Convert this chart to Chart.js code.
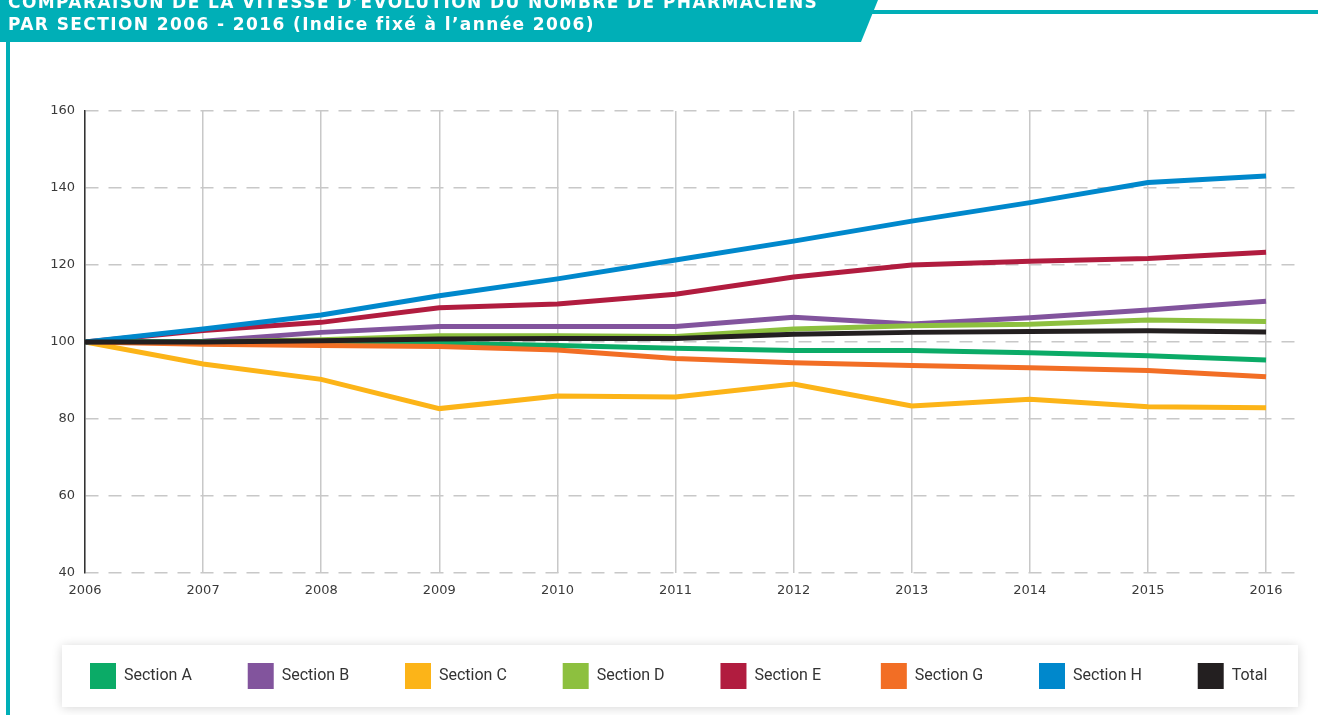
<!DOCTYPE html>
<html>
<head>
<meta charset="utf-8">
<script src="https://cdn.jsdelivr.net/npm/chart.js@4"></script>
<style>
  html, body { margin: 0; padding: 0; background: #fff; }
  body { width: 1318px; height: 715px; position: relative; overflow: hidden; }
  #banner {
    position: absolute; left: 0; top: 0; width: 880px; height: 42px;
    background: #00afb7;
    clip-path: polygon(0 0, 878px 0, 861px 42px, 0 42px);
  }
  #banner-line {
    position: absolute; left: 868px; top: 10px; width: 450px; height: 4px;
    background: #00afb7;
    clip-path: polygon(4px 0, 450px 0, 450px 4px, 0 4px);
  }
  #left-line { position: absolute; left: 6px; top: 40px; width: 4px; height: 675px; background: #00afb7; }
  #title {
    position: absolute; left: 8px; top: -9px; color: #fff;
    font-family: "DejaVu Sans", sans-serif; font-weight: 700; font-size: 17px; line-height: 22px;
    letter-spacing: 1.4px; white-space: nowrap; z-index: 2;
  }
  canvas { position: absolute; left: 0; top: 0; }
</style>
</head>
<body>
<div id="banner"></div>
<div id="banner-line"></div>
<div id="left-line"></div>
<div id="title">COMPARAISON DE LA VITESSE D’ÉVOLUTION DU NOMBRE DE PHARMACIENS<br>PAR SECTION 2006 - 2016 (Indice fixé à l’année 2006)</div>
<canvas id="chart" width="1318" height="715"></canvas>
<script>
const years = [2006, 2007, 2008, 2009, 2010, 2011, 2012, 2013, 2014, 2015, 2016];
const sectionA = [100, 100, 99.9, 99.7, 99.1, 98.4, 97.8, 97.8, 97.2, 96.4, 95.3];
const sectionB = [100, 100.2, 102.5, 104, 104, 104, 106.4, 104.7, 106.3, 108.3, 110.6];
const sectionC = [100, 94.3, 90.3, 82.7, 86, 85.7, 89.1, 83.4, 85.1, 83.2, 82.9];
const sectionD = [100, 100, 100.6, 101.6, 101.6, 101.4, 103.4, 104.2, 104.6, 105.7, 105.3];
const sectionE = [100, 103, 105.1, 108.9, 109.9, 112.4, 116.9, 120, 121, 121.7, 123.3];
const sectionG = [100, 99.4, 99.1, 98.8, 97.9, 95.7, 94.6, 93.9, 93.3, 92.6, 91];
const sectionH = [100, 103.4, 107, 112, 116.4, 121.3, 126.2, 131.4, 136.2, 141.4, 143.1];
const total = [100, 100, 100.3, 100.8, 100.9, 100.9, 102, 102.5, 102.7, 102.9, 102.6];
const yTicks = [40, 60, 80, 100, 120, 140, 160];

const series = [
  { label: "Section A", data: sectionA, color: "#0bab67", order: 4 },
  { label: "Section B", data: sectionB, color: "#82549d", order: 6 },
  { label: "Section C", data: sectionC, color: "#fcb418", order: 8 },
  { label: "Section D", data: sectionD, color: "#8dc03f", order: 5 },
  { label: "Section E", data: sectionE, color: "#b11c3f", order: 7 },
  { label: "Section G", data: sectionG, color: "#f26e25", order: 3 },
  { label: "Section H", data: sectionH, color: "#0088cc", order: 2 },
  { label: "Total", data: total, color: "#231f20", order: 1 }
];

const legendPad = 40;
const legendFont = "16px Roboto";
const legendStep = 159;

// pad legend texts with spaces so items sit on an even step
const measure = document.createElement("canvas").getContext("2d");
measure.font = legendFont;
const spaceW = measure.measureText(" ").width;
function legendText(label, last) {
  if (last) return label;
  const free = legendStep - 26 - 8 - legendPad - measure.measureText(label).width;
  return label + " ".repeat(Math.max(0, Math.round(free / spaceW)));
}

// white panel with soft shadow behind the legend
const legendPanel = {
  id: "legendPanel",
  beforeDraw(chart) {
    const lg = chart.legend;
    const ctx = chart.ctx;
    const top = lg.top + legendPad - 18;
    ctx.save();
    ctx.shadowColor = "rgba(0,0,0,0.16)";
    ctx.shadowBlur = 10;
    ctx.shadowOffsetY = 1;
    ctx.fillStyle = "#fff";
    ctx.fillRect(62, top, 1236, 62);
    ctx.restore();
  }
};

new Chart(document.getElementById("chart"), {
  type: "line",
  data: {
    datasets: series.map(s => ({
      label: s.label,
      data: years.map((yr, i) => ({ x: yr, y: s.data[i] })),
      borderColor: s.color,
      backgroundColor: s.color,
      borderWidth: 5,
      pointRadius: 0,
      tension: 0,
      order: s.order
    }))
  },
  options: {
    responsive: false,
    animation: false,
    layout: { padding: { left: 50, right: 0, top: 111, bottom: 16 } },
    plugins: {
      tooltip: { enabled: false },
      legend: {
        position: "bottom",
        align: "start",
        labels: {
          boxWidth: 26,
          boxHeight: 26,
          padding: legendPad,
          color: "#333",
          font: { family: "Roboto", size: 16 },
          generateLabels(chart) {
            return series.map((s, i) => ({
              text: legendText(s.label, i === series.length - 1),
              fillStyle: s.color, strokeStyle: s.color, lineWidth: 0, fontColor: "#333"
            }));
          }
        }
      }
    },
    scales: {
      x: {
        type: "linear",
        min: 2006,
        max: 2016.245,
        afterBuildTicks(scale) {
          scale.ticks = years.map(v => ({ value: v }));
        },
        afterFit(scale) { scale.height = 50; },
        grid: { color: "#c8c8c8", lineWidth: 1.5, drawTicks: false },
        border: { display: false },
        ticks: {
          padding: 10,
          color: "#3a3a3a",
          font: { family: "DejaVu Sans", size: 13 },
          callback: v => String(v)
        }
      },
      y: {
        min: 40,
        max: 160,
        afterBuildTicks(scale) {
          scale.ticks = yTicks.map(v => ({ value: v }));
        },
        afterFit(scale) { scale.width = 35; },
        grid: { color: "#c8c8c8", lineWidth: 1.5, drawTicks: false },
        border: { display: true, color: "#333", width: 1.5, dash: [13, 10] },
        ticks: {
          padding: 10,
          color: "#3a3a3a",
          font: { family: "DejaVu Sans", size: 13 }
        }
      },
      yRight: {
        position: "right",
        grid: { display: false },
        border: { display: false },
        ticks: { display: false },
        afterFit(scale) { scale.width = 23; }
      }
    }
  },
  plugins: [legendPanel]
});
</script>
</body>
</html>
